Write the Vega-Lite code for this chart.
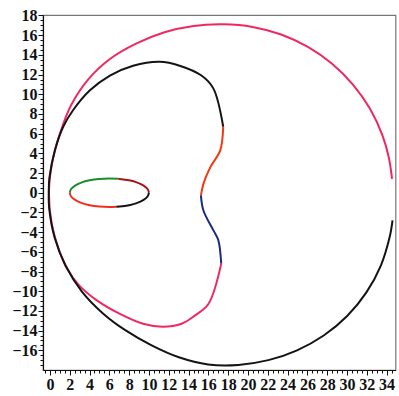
{
  "$schema": "https://vega.github.io/schema/vega-lite/v6.json",
  "width": 352.5,
  "height": 355,
  "autosize": "none",
  "padding": {"left": 43, "top": 15, "right": 3.5, "bottom": 26},
  "background": "white",
  "config": {
    "view": {"stroke": "#777", "strokeWidth": 1.2},
    "axis": {
      "grid": false,
      "domainColor": "#111",
      "domainWidth": 1.2,
      "tickColor": "#111",
      "labelColor": "#111",
      "labelFont": "Liberation Serif",
      "labelFontSize": 16,
      "labelFontWeight": "bold",
      "labelOverlap": false,
      "title": null
    }
  },
  "data": {
    "values": [
      {"s": "pink", "o": 1, "x": 34.55, "y": 1.4},
      {"s": "pink", "o": 2, "x": 34.23, "y": 3.56},
      {"s": "pink", "o": 3, "x": 33.57, "y": 5.85},
      {"s": "pink", "o": 4, "x": 32.31, "y": 8.55},
      {"s": "pink", "o": 5, "x": 30.6, "y": 10.99},
      {"s": "pink", "o": 6, "x": 28.49, "y": 13.1},
      {"s": "pink", "o": 7, "x": 26.05, "y": 14.81},
      {"s": "pink", "o": 8, "x": 23.35, "y": 16.07},
      {"s": "pink", "o": 9, "x": 20.47, "y": 16.84},
      {"s": "pink", "o": 10, "x": 17.5, "y": 17.1},
      {"s": "pink", "o": 11, "x": 14.51, "y": 16.94},
      {"s": "pink", "o": 12, "x": 11.57, "y": 16.3},
      {"s": "pink", "o": 13, "x": 8.75, "y": 15.16},
      {"s": "pink", "o": 14, "x": 6.09, "y": 13.6},
      {"s": "pink", "o": 15, "x": 3.83, "y": 11.47},
      {"s": "pink", "o": 16, "x": 2.13, "y": 8.88},
      {"s": "pink", "o": 17, "x": 1.01, "y": 6.0},
      {"s": "pink", "o": 18, "x": 0.22, "y": 3.05},
      {"s": "pink", "o": 19, "x": -0.1, "y": 0},
      {"s": "pink", "o": 20, "x": 0.17, "y": -3.06},
      {"s": "pink", "o": 21, "x": 0.95, "y": -5.9},
      {"s": "pink", "o": 22, "x": 1.75, "y": -7.75},
      {"s": "pink", "o": 23, "x": 2.9, "y": -9.35},
      {"s": "pink", "o": 24, "x": 4.7, "y": -10.9},
      {"s": "pink", "o": 25, "x": 7.07, "y": -12.3},
      {"s": "pink", "o": 26, "x": 9.4, "y": -13.3},
      {"s": "pink", "o": 27, "x": 11.4, "y": -13.6},
      {"s": "pink", "o": 28, "x": 13.3, "y": -13.3},
      {"s": "pink", "o": 29, "x": 14.6, "y": -12.5},
      {"s": "pink", "o": 30, "x": 16.0, "y": -11.3},
      {"s": "pink", "o": 31, "x": 17.3, "y": -7.2},

      {"s": "black", "o": 1, "x": 34.6, "y": -2.8},
      {"s": "black", "o": 2, "x": 34.31, "y": -4.5},
      {"s": "black", "o": 3, "x": 33.41, "y": -7.42},
      {"s": "black", "o": 4, "x": 31.96, "y": -10.12},
      {"s": "black", "o": 5, "x": 30.02, "y": -12.52},
      {"s": "black", "o": 6, "x": 27.65, "y": -14.5},
      {"s": "black", "o": 7, "x": 24.96, "y": -16.0},
      {"s": "black", "o": 8, "x": 22.06, "y": -17.0},
      {"s": "black", "o": 9, "x": 19.03, "y": -17.48},
      {"s": "black", "o": 10, "x": 15.97, "y": -17.43},
      {"s": "black", "o": 11, "x": 13.02, "y": -16.71},
      {"s": "black", "o": 12, "x": 10.27, "y": -15.5},
      {"s": "black", "o": 13, "x": 7.69, "y": -14.01},
      {"s": "black", "o": 14, "x": 5.3, "y": -12.2},
      {"s": "black", "o": 15, "x": 3.21, "y": -10.01},
      {"s": "black", "o": 16, "x": 1.59, "y": -7.42},
      {"s": "black", "o": 17, "x": 0.48, "y": -4.56},
      {"s": "black", "o": 18, "x": -0.08, "y": -1.54},
      {"s": "black", "o": 19, "x": -0.12, "y": 0},
      {"s": "black", "o": 20, "x": -0.05, "y": 1.54},
      {"s": "black", "o": 21, "x": 0.5, "y": 4.3},
      {"s": "black", "o": 22, "x": 1.34, "y": 6.7},
      {"s": "black", "o": 23, "x": 2.35, "y": 8.4},
      {"s": "black", "o": 24, "x": 4.04, "y": 10.4},
      {"s": "black", "o": 25, "x": 6.06, "y": 11.9},
      {"s": "black", "o": 26, "x": 8.4, "y": 12.9},
      {"s": "black", "o": 27, "x": 11.1, "y": 13.3},
      {"s": "black", "o": 28, "x": 13.1, "y": 12.9},
      {"s": "black", "o": 29, "x": 15.3, "y": 11.9},
      {"s": "black", "o": 30, "x": 16.5, "y": 10.6},
      {"s": "black", "o": 31, "x": 17.5, "y": 6.7},

      {"s": "orange", "o": 1, "x": 17.5, "y": 6.7},
      {"s": "orange", "o": 2, "x": 17.2, "y": 4.3},
      {"s": "orange", "o": 3, "x": 16.2, "y": 2.6},
      {"s": "orange", "o": 4, "x": 15.5, "y": 0.9},
      {"s": "orange", "o": 5, "x": 15.25, "y": -0.26},

      {"s": "blue", "o": 1, "x": 15.25, "y": -0.26},
      {"s": "blue", "o": 2, "x": 15.5, "y": -1.8},
      {"s": "blue", "o": 3, "x": 16.5, "y": -3.8},
      {"s": "blue", "o": 4, "x": 17.0, "y": -4.8},
      {"s": "blue", "o": 5, "x": 17.3, "y": -7.2},

      {"s": "egreen", "o": 1, "x": 2.0, "y": 0},
      {"s": "egreen", "o": 2, "x": 2.14, "y": 0.38},
      {"s": "egreen", "o": 3, "x": 2.54, "y": 0.73},
      {"s": "egreen", "o": 4, "x": 3.17, "y": 1.03},
      {"s": "egreen", "o": 5, "x": 4.0, "y": 1.26},
      {"s": "egreen", "o": 6, "x": 4.96, "y": 1.4},
      {"s": "egreen", "o": 7, "x": 6.0, "y": 1.45},
      {"s": "egreen", "o": 8, "x": 6.9, "y": 1.41},

      {"s": "edarkred", "o": 1, "x": 6.9, "y": 1.41},
      {"s": "edarkred", "o": 2, "x": 7.04, "y": 1.4},
      {"s": "edarkred", "o": 3, "x": 8.0, "y": 1.26},
      {"s": "edarkred", "o": 4, "x": 8.83, "y": 1.03},
      {"s": "edarkred", "o": 5, "x": 9.46, "y": 0.73},
      {"s": "edarkred", "o": 6, "x": 9.86, "y": 0.38},
      {"s": "edarkred", "o": 7, "x": 10.0, "y": 0},

      {"s": "ered", "o": 1, "x": 2.0, "y": 0},
      {"s": "ered", "o": 2, "x": 2.14, "y": -0.38},
      {"s": "ered", "o": 3, "x": 2.54, "y": -0.73},
      {"s": "ered", "o": 4, "x": 3.17, "y": -1.03},
      {"s": "ered", "o": 5, "x": 4.0, "y": -1.26},
      {"s": "ered", "o": 6, "x": 4.96, "y": -1.4},
      {"s": "ered", "o": 7, "x": 6.0, "y": -1.45},
      {"s": "ered", "o": 8, "x": 6.7, "y": -1.42},

      {"s": "eblack", "o": 1, "x": 6.7, "y": -1.42},
      {"s": "eblack", "o": 2, "x": 7.04, "y": -1.4},
      {"s": "eblack", "o": 3, "x": 8.0, "y": -1.26},
      {"s": "eblack", "o": 4, "x": 8.83, "y": -1.03},
      {"s": "eblack", "o": 5, "x": 9.46, "y": -0.73},
      {"s": "eblack", "o": 6, "x": 9.86, "y": -0.38},
      {"s": "eblack", "o": 7, "x": 10.0, "y": 0}
    ]
  },
  "encoding": {
    "x": {
      "field": "x",
      "type": "quantitative",
      "scale": {"domain": [-0.7, 34.9], "nice": false, "zero": false},
      "axis": {
        "values": [-0.5, 0, 0.5, 1, 1.5, 2, 2.5, 3, 3.5, 4, 4.5, 5, 5.5, 6, 6.5, 7, 7.5, 8, 8.5, 9, 9.5, 10, 10.5, 11, 11.5, 12, 12.5, 13, 13.5, 14, 14.5, 15, 15.5, 16, 16.5, 17, 17.5, 18, 18.5, 19, 19.5, 20, 20.5, 21, 21.5, 22, 22.5, 23, 23.5, 24, 24.5, 25, 25.5, 26, 26.5, 27, 27.5, 28, 28.5, 29, 29.5, 30, 30.5, 31, 31.5, 32, 32.5, 33, 33.5, 34, 34.5],
        "labelExpr": "datum.value % 2 === 0 ? format(datum.value, 'd') : ''",
        "tickSize": {"condition": {"test": "datum.value % 2 === 0", "value": 5}, "value": 3},
        "labelPadding": 1
      }
    },
    "y": {
      "field": "y",
      "type": "quantitative",
      "scale": {"domain": [-18, 18.05], "nice": false, "zero": false},
      "axis": {
        "values": [-17.5, -17, -16.5, -16, -15.5, -15, -14.5, -14, -13.5, -13, -12.5, -12, -11.5, -11, -10.5, -10, -9.5, -9, -8.5, -8, -7.5, -7, -6.5, -6, -5.5, -5, -4.5, -4, -3.5, -3, -2.5, -2, -1.5, -1, -0.5, 0, 0.5, 1, 1.5, 2, 2.5, 3, 3.5, 4, 4.5, 5, 5.5, 6, 6.5, 7, 7.5, 8, 8.5, 9, 9.5, 10, 10.5, 11, 11.5, 12, 12.5, 13, 13.5, 14, 14.5, 15, 15.5, 16, 16.5, 17, 17.5, 18],
        "labelExpr": "datum.value % 2 === 0 ? format(datum.value, 'd') : ''",
        "tickSize": {"condition": {"test": "datum.value % 2 === 0", "value": 5}, "value": 3},
        "labelPadding": 1
      }
    },
    "order": {"field": "o", "type": "quantitative"},
    "detail": {"field": "s", "type": "nominal"},
    "color": {
      "field": "s",
      "type": "nominal",
      "legend": null,
      "scale": {
        "domain": ["pink", "black", "orange", "blue", "egreen", "edarkred", "ered", "eblack"],
        "range": ["#f0285f", "#141414", "#f23a12", "#1c2a80", "#1e8c2e", "#a3161c", "#f0301e", "#141414"]
      }
    }
  },
  "layer": [
    {
      "transform": [{"filter": "datum.s === 'pink'"}],
      "mark": {"type": "line", "strokeWidth": 2, "clip": true, "interpolate": "catmull-rom"}
    },
    {
      "transform": [{"filter": "datum.s !== 'pink'"}],
      "mark": {"type": "line", "strokeWidth": 2, "clip": true, "interpolate": "catmull-rom"}
    }
  ]
}
